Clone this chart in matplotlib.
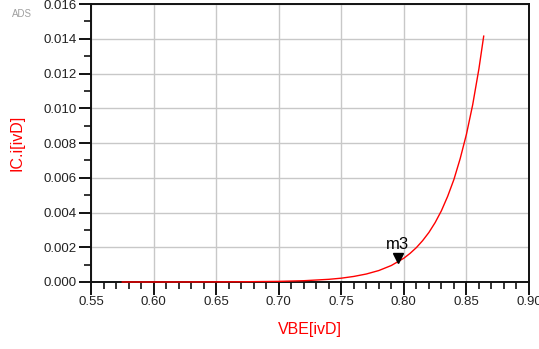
import matplotlib
matplotlib.use("Agg")
import matplotlib.pyplot as plt
import matplotlib.transforms as mtransforms
from matplotlib.ticker import MultipleLocator

plt.rcParams['font.family'] = ['Liberation Sans', 'DejaVu Sans']

# curva IC vs VBE
vbe = [0.575, 0.600, 0.625, 0.650, 0.670, 0.700, 0.720, 0.740, 0.750, 0.760,
       0.770, 0.780, 0.790, 0.800, 0.805, 0.810, 0.815, 0.820, 0.825, 0.830,
       0.835, 0.840, 0.845, 0.850, 0.855, 0.860, 0.8638]
ic = [0.0000004, 0.0000009, 0.0000023, 0.0000057, 0.000012, 0.000036, 0.000074,
      0.000154, 0.00022, 0.00032, 0.00046, 0.00066, 0.00095, 0.00137, 0.00165,
      0.00198, 0.00238, 0.00285, 0.00342, 0.0041, 0.00493, 0.0059, 0.0071,
      0.0085, 0.0102, 0.01228, 0.01415]

marker_name = "m3"
marker_x = 0.7953
marker_y = 0.00108

xticks = [0.55, 0.60, 0.65, 0.70, 0.75, 0.80, 0.85, 0.90]
yticks = [0.000, 0.002, 0.004, 0.006, 0.008, 0.010, 0.012, 0.014, 0.016]

fig = plt.figure(figsize=(5.39, 3.49), dpi=100)
ax = fig.add_axes([91 / 539, 1 - 282 / 349, (529 - 91) / 539, (282 - 4) / 349])

ax.plot(vbe, ic, color='#ff0000', lw=1.0, zorder=3, clip_on=False)

# marcador m3
off = mtransforms.offset_copy(ax.transData, fig=fig, x=0, y=3.5, units='points')
ax.plot([marker_x], [marker_y], marker='v', color='black', ms=6.5, transform=off,
        zorder=4, clip_on=False)
ax.text(marker_x, marker_y + 0.00062, marker_name, ha='center', va='bottom',
        fontsize=12, color='black', zorder=5)

ax.set_xlim(0.55, 0.90)
ax.set_ylim(0.0, 0.016)
ax.set_xticks(xticks)
ax.set_xticklabels([f"{v:.2f}" for v in xticks])
ax.set_yticks(yticks)
ax.set_yticklabels([f"{v:.3f}" for v in yticks])
ax.xaxis.set_minor_locator(MultipleLocator(0.01))
ax.yaxis.set_minor_locator(MultipleLocator(0.001))

ax.grid(True, which='major', color='#c8c8c8', lw=1.0)
ax.set_axisbelow(True)
for s in ax.spines.values():
    s.set_color('#111111')
    s.set_linewidth(1.4)

ax.tick_params(which='major', direction='out', length=9, width=1.4,
               labelsize=9.5, labelcolor='#222222', color='#111111', pad=1)
ax.tick_params(which='minor', direction='out', length=5, width=1.2, color='#111111')

ax.set_xlabel("VBE[ivD]", color='#ff0000', fontsize=11.5, labelpad=10)
ax.set_ylabel("IC.i[ivD]", color='#ff0000', fontsize=11.5, labelpad=14)

fig.text(12 / 539, 1 - 14 / 349, "ADS", color='#a0a0a0', fontsize=7, va='center')

fig.savefig("out.png", dpi=100)
